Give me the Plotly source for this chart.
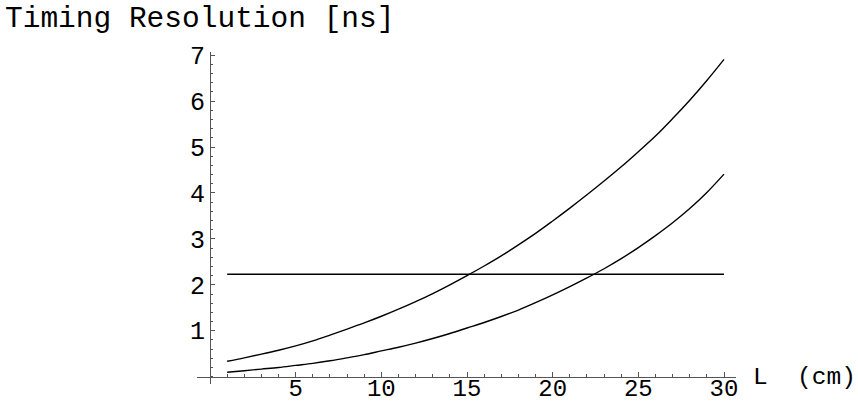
import plotly.graph_objects as go

# Data
L = list(range(1, 31))
upper = [0.335, 0.41, 0.49, 0.575, 0.67, 0.78, 0.905, 1.035, 1.17, 1.315,
         1.47, 1.635, 1.81, 2.00, 2.20, 2.41, 2.63, 2.87, 3.12, 3.39,
         3.67, 3.96, 4.26, 4.57, 4.90, 5.24, 5.62, 6.02, 6.45, 6.91]
lower = [0.096, 0.13, 0.165, 0.20, 0.245, 0.29, 0.345, 0.41, 0.48, 0.56,
         0.64, 0.73, 0.83, 0.94, 1.06, 1.18, 1.31, 1.45, 1.61, 1.78,
         1.96, 2.15, 2.35, 2.57, 2.81, 3.07, 3.35, 3.66, 4.01, 4.41]
thr_L = [1, 30]
thr = [2.23, 2.23]

x_ticks = [5, 10, 15, 20, 25, 30]
y_ticks = [1, 2, 3, 4, 5, 6, 7]
title_text = "Timing Resolution [ns]"
xlabel_text = "L\u00a0\u00a0(cm)"

W, H = 858, 405
px_left, px_right, px_top, px_bottom = 197, 736, 52, 384
x_range = [-0.76, 30.7]
y_range = [-0.16, 7.07]
FONT = "Liberation Mono"
AX = "#555555"

fig = go.Figure()
for ys, xs in [(upper, L), (lower, L), (thr, thr_L)]:
    fig.add_trace(go.Scatter(x=xs, y=ys, mode="lines",
                             line=dict(color="black", width=1.4, shape="spline"),
                             showlegend=False, hoverinfo="skip"))

xpos = (0 - x_range[0]) / (x_range[1] - x_range[0])
ypos = (0 - y_range[0]) / (y_range[1] - y_range[0])
pw = px_right - px_left
ph = px_bottom - px_top

fig.update_layout(
    width=W, height=H,
    margin=dict(l=px_left, r=W - px_right, t=px_top, b=H - px_bottom, pad=0,
                autoexpand=False),
    paper_bgcolor="white", plot_bgcolor="white",
    font=dict(family=FONT, color="black", size=24),
    xaxis=dict(range=x_range, anchor="free", position=ypos, showline=True,
               automargin=False,
               linecolor=AX, linewidth=1.2, showgrid=False, zeroline=False,
               tickmode="array", tickvals=x_ticks, ticks="inside", ticklen=5,
               tickcolor=AX, tickwidth=1, ticklabelstandoff=-11,
               tickfont=dict(family=FONT, size=24, color="black"),
               minor=dict(tickmode="linear", tick0=0, dtick=1, ticks="inside",
                          ticklen=3, tickcolor=AX, tickwidth=1, showgrid=False)),
    yaxis=dict(range=y_range, anchor="free", position=xpos, showline=True,
               automargin=False,
               linecolor=AX, linewidth=1.2, showgrid=False, zeroline=False,
               tickmode="array", tickvals=y_ticks, ticks="inside", ticklen=4,
               tickcolor=AX, tickwidth=1,
               tickfont=dict(family=FONT, size=25, color="black"),
               minor=dict(tickmode="linear", tick0=0, dtick=0.2, ticks="inside",
                          ticklen=2, tickcolor=AX, tickwidth=1, showgrid=False)),
    annotations=[
        dict(text=title_text, xref="paper", yref="paper",
             x=(3 - px_left) / pw, y=(px_bottom - 19) / ph,
             xanchor="left", yanchor="middle", showarrow=False,
             font=dict(family=FONT, size=29.5, color="black")),
        dict(text=xlabel_text, xref="paper", yref="paper",
             x=(751 - px_left) / pw, y=(px_bottom - 377) / ph,
             xanchor="left", yanchor="middle", showarrow=False,
             font=dict(family=FONT, size=24.5, color="black")),
    ],
)

fig.write_html("out.html")
